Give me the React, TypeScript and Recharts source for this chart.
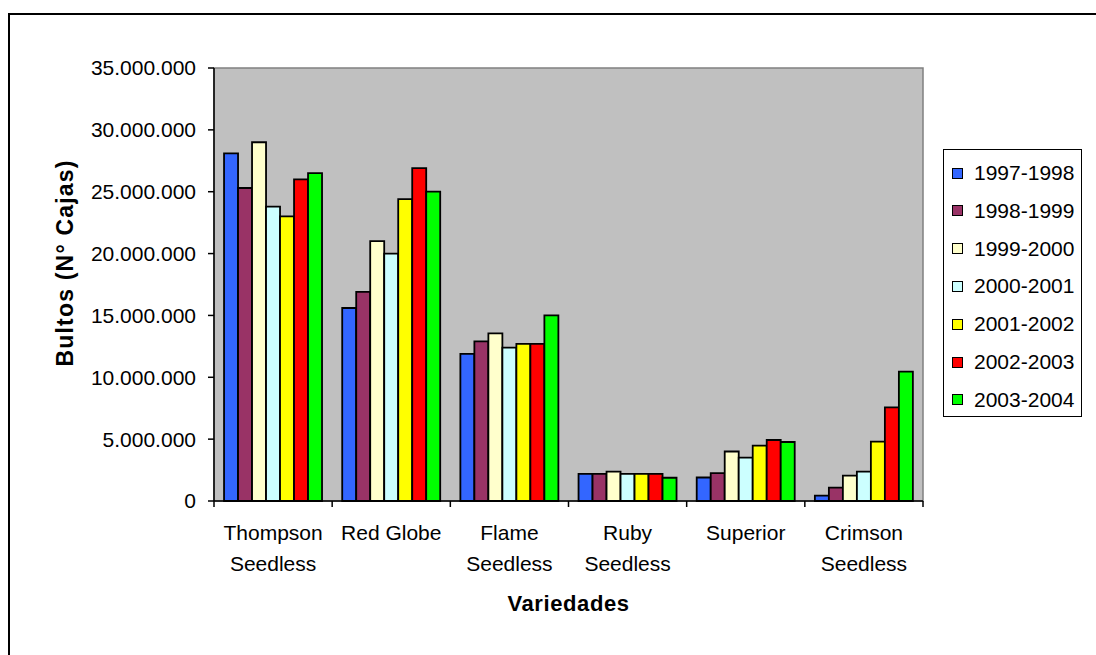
import React from 'react';
import { BarChart, Bar, XAxis, YAxis, ReferenceArea } from 'recharts';

const categories = ['Thompson Seedless', 'Red Globe', 'Flame Seedless', 'Ruby Seedless', 'Superior', 'Crimson Seedless'];
const tickLabelLines = [['Thompson', 'Seedless'], ['Red Globe'], ['Flame', 'Seedless'], ['Ruby', 'Seedless'], ['Superior'], ['Crimson', 'Seedless']];
const seasons = ['1997-1998', '1998-1999', '1999-2000', '2000-2001', '2001-2002', '2002-2003', '2003-2004'];
const seasonColors = ['#3366FF', '#993366', '#FFFFCC', '#CCFFFF', '#FFFF00', '#FF0000', '#00FF00'];

const s1997 = [28100000, 15600000, 11900000, 2200000, 1900000, 430000];
const s1998 = [25300000, 16900000, 12900000, 2200000, 2250000, 1080000];
const s1999 = [29000000, 21000000, 13550000, 2370000, 4000000, 2050000];
const s2000 = [23800000, 20000000, 12400000, 2200000, 3500000, 2370000];
const s2001 = [23000000, 24400000, 12700000, 2200000, 4470000, 4800000];
const s2002 = [26000000, 26900000, 12700000, 2200000, 4930000, 7570000];
const s2003 = [26500000, 25000000, 15000000, 1880000, 4770000, 10450000];

const seriesValues = [s1997, s1998, s1999, s2000, s2001, s2002, s2003];
const yTicks = [0, 5000000, 10000000, 15000000, 20000000, 25000000, 30000000, 35000000];

const data = categories.map((c, i) => {
  const row: Record<string, string | number> = { name: c };
  seasons.forEach((s, j) => {
    row[s] = seriesValues[j][i];
  });
  return row;
});

const CHART_W = 1096;
const CHART_H = 655;
const MARGIN = { top: 68, right: 173, left: 0, bottom: 94 };
const Y_AXIS_W = 214;
const PLOT_W = CHART_W - MARGIN.left - MARGIN.right - Y_AXIS_W;
const HALF_BAND = PLOT_W / categories.length / 2;

const FONT = 'Arial, "Liberation Sans", sans-serif';

const fmt = (v: number) => String(v).replace(/\B(?=(\d{3})+(?!\d))/g, '.');

const CategoryTick = (props: any) => {
  const { x, y, payload } = props;
  const idx = categories.indexOf(payload.value);
  const lines = tickLabelLines[idx] || [payload.value];
  const isLast = idx === categories.length - 1;
  return (
    <g>
      <line x1={x - HALF_BAND} x2={x - HALF_BAND} y1={y} y2={y + 6} stroke="#000" strokeWidth={1.5} />
      {isLast && <line x1={x + HALF_BAND} x2={x + HALF_BAND} y1={y} y2={y + 6} stroke="#000" strokeWidth={1.5} />}
      <text x={x} y={y} textAnchor="middle" fontFamily={FONT} fontSize={21} fill="#000">
        {lines.map((l, k) => (
          <tspan key={k} x={x} dy={k === 0 ? 39 : 31}>
            {l}
          </tspan>
        ))}
      </text>
    </g>
  );
};

const YLabel = () => (
  <text
    x={65}
    y={263}
    transform="rotate(-90, 65, 263)"
    textAnchor="middle"
    dominantBaseline="central"
    fontFamily={FONT}
    fontSize={23}
    fontWeight="bold"
    letterSpacing={1.2}
    fill="#000"
  >
    Bultos (N° Cajas)
  </text>
);

export default function App() {
  return (
    <div style={{ position: 'absolute', left: 0, top: 0, width: 1096, height: 655, overflow: 'hidden', background: '#fff' }}>
      <div
        style={{
          position: 'absolute',
          left: 8,
          top: 13,
          width: 1200,
          height: 800,
          borderTop: '2px solid #000',
          borderLeft: '2px solid #000',
        }}
      />
      <div style={{ position: 'absolute', left: 0, top: 0 }}>
        <BarChart
          width={CHART_W}
          height={CHART_H}
          data={data}
          margin={MARGIN}
          barCategoryGap="8.5%"
          barGap={0}
        >
          <ReferenceArea
            x1={categories[0]}
            x2={categories[categories.length - 1]}
            y1={0}
            y2={35000000}
            fill="#C0C0C0"
            fillOpacity={1}
            stroke="#808080"
            strokeWidth={1.5}
            ifOverflow="visible"
          />
          <XAxis
            dataKey="name"
            type="category"
            height={60}
            axisLine={{ stroke: '#000', strokeWidth: 1.5 }}
            tickLine={false}
            tickSize={0}
            tickMargin={0}
            tick={<CategoryTick />}
            interval={0}
            label={{
              value: 'Variedades',
              position: 'insideBottom',
              offset: -50,
              fontFamily: FONT,
              fontSize: 22,
              fontWeight: 'bold',
              letterSpacing: 0.6,
              fill: '#000',
            }}
          />
          <YAxis
            width={Y_AXIS_W}
            domain={[0, 35000000]}
            ticks={yTicks}
            tickFormatter={fmt}
            tickSize={6}
            tickMargin={12}
            axisLine={{ stroke: '#000', strokeWidth: 1.5 }}
            tickLine={{ stroke: '#000', strokeWidth: 1.5 }}
            tick={{ fontFamily: FONT, fontSize: 21, fill: '#000' }}
            label={<YLabel />}
            interval={0}
          />
          {seasons.map((s, j) => (
            <Bar
              key={s}
              dataKey={s}
              fill={seasonColors[j]}
              stroke="#000"
              strokeWidth={1.8}
              isAnimationActive={false}
            />
          ))}
        </BarChart>
      </div>
      <div
        style={{
          position: 'absolute',
          left: 943,
          top: 149,
          width: 137,
          height: 266,
          border: '1.5px solid #000',
          background: '#fff',
          fontFamily: FONT,
          fontSize: 21,
          color: '#000',
        }}
      >
        {seasons.map((s, j) => (
          <div
            key={s}
            style={{ position: 'absolute', left: 0, top: 8 + j * 37.8, height: 30, display: 'flex', alignItems: 'center' }}
          >
            <span
              style={{
                display: 'inline-block',
                width: 9,
                height: 9,
                marginLeft: 8,
                marginRight: 11,
                background: seasonColors[j],
                border: '1px solid #000',
              }}
            />
            <span style={{ lineHeight: '30px' }}>{s}</span>
          </div>
        ))}
      </div>
    </div>
  );
}
